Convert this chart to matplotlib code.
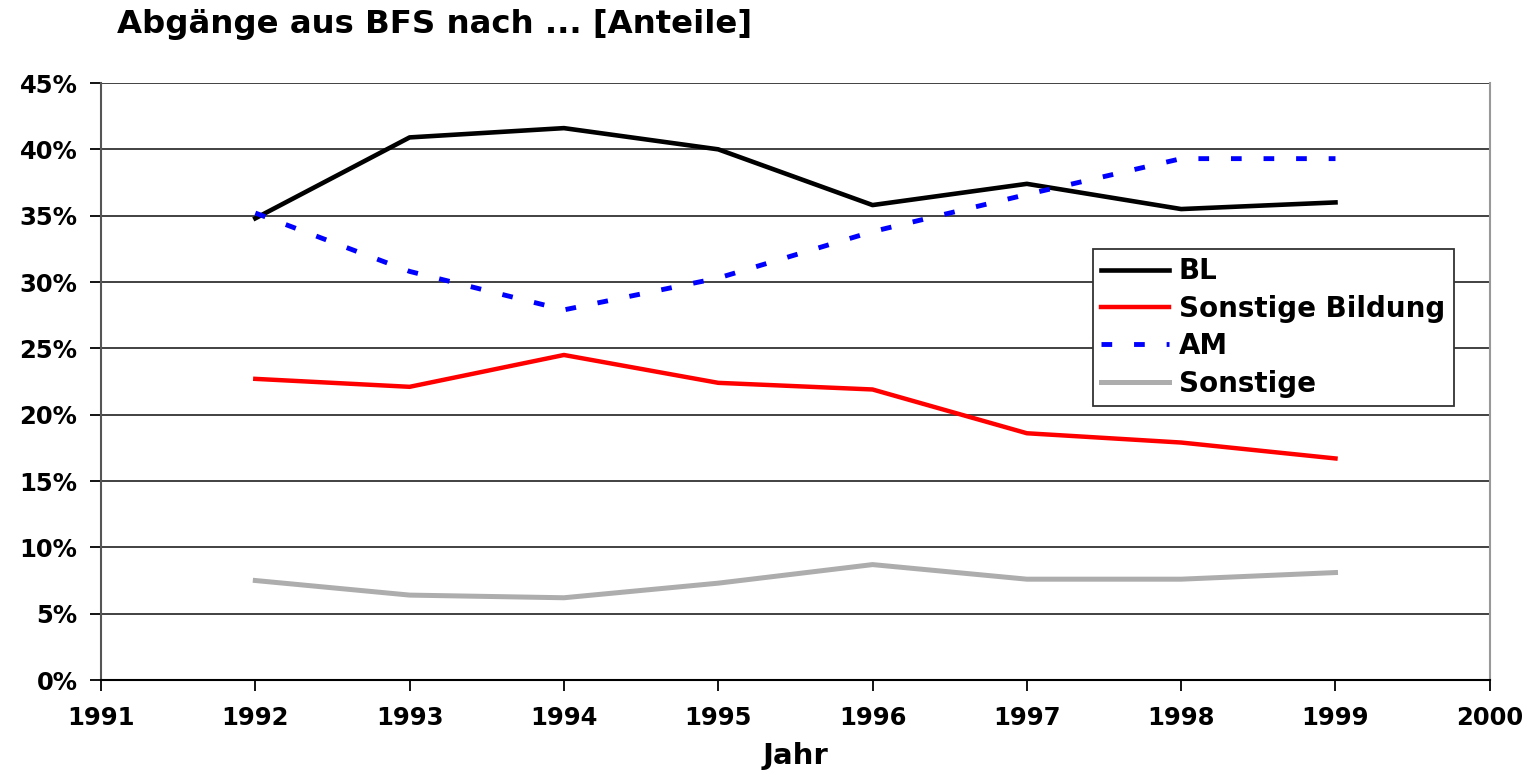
import matplotlib
matplotlib.use('Agg')
import matplotlib.pyplot as plt
from matplotlib import ticker as mticker

plt.rcParams['font.family'] = ['DejaVu Sans']
plt.rcParams['font.weight'] = 'bold'

# Anteile der Abgaenge in %
years = [1992, 1993, 1994, 1995, 1996, 1997, 1998, 1999]
bl = [34.8, 40.9, 41.6, 40.0, 35.8, 37.4, 35.5, 36.0]
sonst_bildung = [22.7, 22.1, 24.5, 22.4, 21.9, 18.6, 17.9, 16.7]
am = [35.2, 30.8, 27.9, 30.3, 33.8, 36.6, 39.3, 39.3]
sonstige = [7.5, 6.4, 6.2, 7.3, 8.7, 7.6, 7.6, 8.1]

fig = plt.figure(figsize=(15.28, 7.73), dpi=100)
ax = fig.add_axes([0.0661, 0.1203, 0.9089, 0.7723])

for y in range(5, 50, 5):
    ax.axhline(y, color='#333333', lw=1.3, zorder=1)

ax.plot(years, bl, color='black', lw=3.3, label='BL', zorder=3)
ax.plot(years, sonst_bildung, color='#ff0000', lw=3.2, label='Sonstige Bildung', zorder=3)
ax.plot(years, am, color='#0000ff', lw=3.5, dashes=(2.2, 4.5), label='AM', zorder=3)
ax.plot(years, sonstige, color='#adadad', lw=3.6, label='Sonstige', zorder=2)

ax.set_xlim(1991, 2000)
ax.set_ylim(0, 45)
ax.set_xticks(range(1991, 2001))
ax.set_yticks(range(0, 50, 5))
ax.yaxis.set_major_formatter(mticker.FuncFormatter(lambda v, p: '%d%%' % v))
ax.tick_params(axis='both', direction='out', length=8, width=1.3, labelsize=17.5, color='black')
ax.tick_params(axis='x', pad=11)
ax.tick_params(axis='y', pad=9)

ax.spines['top'].set_visible(False)
ax.spines['left'].set_color('#555555')
ax.spines['left'].set_linewidth(1.5)
ax.spines['bottom'].set_color('black')
ax.spines['bottom'].set_linewidth(1.5)
ax.spines['right'].set_color('#999999')
ax.spines['right'].set_linewidth(1.5)

ax.set_xlabel('Jahr', fontsize=21, fontweight='bold', labelpad=8)

leg = ax.legend(loc='upper left', bbox_to_anchor=(0.714, 0.722), fontsize=20,
                frameon=True, fancybox=False, handlelength=2.45, handletextpad=0.36,
                borderpad=0.3, labelspacing=0.34, borderaxespad=0)
leg.get_frame().set_edgecolor('#333333')
leg.get_frame().set_linewidth(1.3)
leg.get_frame().set_alpha(1)

fig.text(117 / 1528, 1 - 24 / 773, 'Abgänge aus BFS nach ... [Anteile]', fontsize=23.3,
         fontweight='bold', ha='left', va='center')

fig.savefig('out.png', dpi=100)
